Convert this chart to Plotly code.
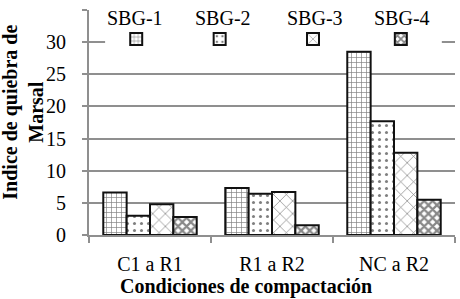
import plotly.graph_objects as go

categories = ["C1 a R1", "R1 a R2", "NC a R2"]
series_names = ["SBG-1", "SBG-2", "SBG-3", "SBG-4"]
sbg1 = [6.6, 7.3, 28.5]
sbg2 = [3.0, 6.4, 17.7]
sbg3 = [4.8, 6.7, 12.8]
sbg4 = [2.8, 1.5, 5.5]
y_ticks = [0, 5, 10, 15, 20, 25, 30, 35]

series_values = [sbg1, sbg2, sbg3, sbg4]
patterns = [
    dict(shape="+", fgcolor="black", bgcolor="white", size=5, solidity=0.25),
    dict(shape=".", fgcolor="black", bgcolor="white", size=7, solidity=0.15),
    dict(shape="x", fgcolor="black", bgcolor="white", size=9, solidity=0.15),
    dict(shape="x", fgcolor="#111111", bgcolor="white", size=6, solidity=0.6),
]

FONT = "Liberation Serif"
GRAY = "#8f8f8f"
legend_ids = ["legend", "legend2", "legend3", "legend4"]
text_x = [0.126, 0.366, 0.617, 0.855]
swatch_x = [0.129, 0.357, 0.612, 0.852]

fig = go.Figure()
for name, vals, pat, lid in zip(series_names, series_values, patterns, legend_ids):
    fig.add_trace(go.Bar(
        x=categories, y=vals, name=" ", legend=lid,
        marker=dict(color="white", pattern=pat, line=dict(color="#111111", width=2)),
        showlegend=True,
    ))

annotations = []
for name, lx in zip(series_names, text_x):
    annotations.append(dict(
        text=name, x=lx, y=0.964, xref="paper", yref="paper",
        xanchor="center", yanchor="middle", showarrow=False,
        font=dict(family=FONT, size=20, color="black"),
    ))
annotations.append(dict(
    text="<b>Condiciones de compactación</b>", x=0.429, y=-0.227,
    xref="paper", yref="paper", xanchor="center", yanchor="middle",
    showarrow=False, font=dict(family=FONT, size=20, color="black"),
))
annotations.append(dict(
    text="<b>Indice de quiebra de<br>Marsal</b>", x=-0.181, y=0.547,
    xref="paper", yref="paper", xanchor="center", yanchor="middle",
    textangle=-90, showarrow=False,
    font=dict(family=FONT, size=20, color="black"),
))

legend_common = dict(
    orientation="h", xanchor="left", y=0.871, yanchor="middle",
    bgcolor="rgba(0,0,0,0)", font=dict(family=FONT, size=12),
    itemclick=False, itemdoubleclick=False,
)
legend_layout = {}
for lid, lx in zip(legend_ids, swatch_x):
    legend_layout[lid] = dict(legend_common, x=lx - 20 / 366)

fig.update_layout(
    width=460, height=299,
    margin=dict(l=89, r=5, t=10, b=64),
    paper_bgcolor="white", plot_bgcolor="white",
    barmode="group", bargap=0.234, bargroupgap=0,
    font=dict(family=FONT, size=20, color="black"),
    showlegend=True,
    annotations=annotations,
    xaxis=dict(
        showline=True, linecolor=GRAY, linewidth=2,
        ticks="outside", tickson="boundaries", ticklen=6, tickcolor=GRAY, tickwidth=2,
        ticklabelstandoff=10, tickfont=dict(family=FONT, size=20, color="black"),
        showgrid=False,
    ),
    yaxis=dict(
        range=[0, 35], tickvals=y_ticks, showline=True, linecolor=GRAY, linewidth=2,
        ticks="outside", ticklen=5, tickcolor=GRAY, tickwidth=2,
        ticklabelstandoff=12, tickfont=dict(family=FONT, size=20, color="black"),
        showgrid=True, gridcolor=GRAY, gridwidth=2, zeroline=False,
    ),
    **legend_layout,
)
# white background behind the legend block (hides gridlines there)
fig.add_shape(
    type="rect", xref="paper", yref="paper", x0=0.044, x1=0.964, y0=0.822, y1=1.03,
    fillcolor="white", line=dict(width=0), layer="above",
)

fig.write_html(
    "out.html",
    config={"displayModeBar": False},
    post_script="document.body.style.margin='0';document.body.style.overflow='hidden';",
)
